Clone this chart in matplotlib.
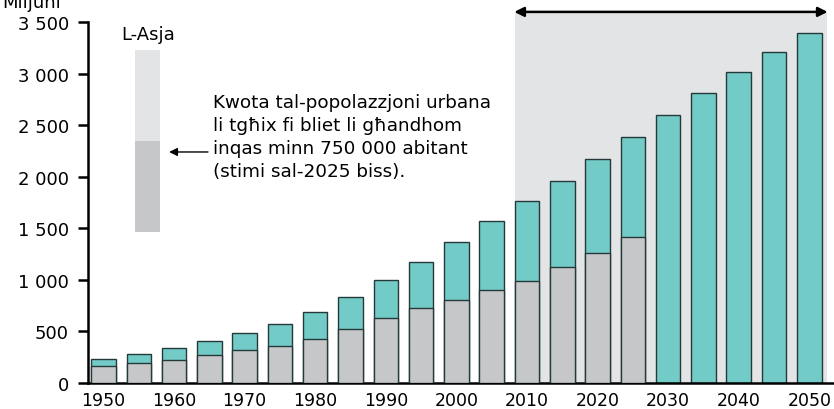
import matplotlib.pyplot as plt
from matplotlib.ticker import FuncFormatter

# dejta (miljuni)
snin = [1950, 1955, 1960, 1965, 1970, 1975, 1980, 1985, 1990, 1995, 2000,
        2005, 2010, 2015, 2020, 2025, 2030, 2035, 2040, 2045, 2050]
total = [227, 276, 334, 408, 480, 567, 683, 832, 1000, 1175, 1363,
         1567, 1761, 1958, 2172, 2382, 2602, 2813, 3019, 3214, 3392]
bliet_zghar = [159, 188, 220, 266, 315, 359, 427, 524, 631, 724, 803,
               897, 984, 1123, 1260, 1412]
xtikketti = list(range(1950, 2051, 10))

TEAL = '#72cbc7'
GRIZ = '#c6c7c9'
SFOND = '#e3e4e6'
XIFER = '#26393a'

plt.rcParams['font.family'] = ['DejaVu Sans']
fig = plt.figure(figsize=(8.34, 4.10), dpi=100)
ax = fig.add_axes([87.5 / 834, 26.3 / 410, 1 - 87.5 / 834, (383.7 - 12.9) / 410])

wisa = 3.47
# sfond ghall-projezzjonijiet
ax.axvspan(2010 - wisa / 2, 2052.5, color=SFOND, zorder=0, lw=0)

ax.bar(snin, total, width=wisa, color=TEAL, edgecolor=XIFER, linewidth=1, zorder=2)
ax.bar(snin[:len(bliet_zghar)], bliet_zghar, width=wisa, color=GRIZ,
       edgecolor=XIFER, linewidth=1, zorder=3)

ax.set_xlim(1947.73, 2053.5)
ax.set_ylim(0, 3600)
ax.set_yticks(range(0, 3501, 500))
ax.yaxis.set_major_formatter(FuncFormatter(lambda v, p: f'{int(v):,}'.replace(',', ' ')))
ax.set_xticks(xtikketti)
ax.tick_params(axis='x', length=0, labelsize=12.5, pad=6)
ax.tick_params(axis='y', length=7.5, width=1.8, labelsize=13, pad=6)
for s in ['top', 'right']:
    ax.spines[s].set_visible(False)
ax.spines['left'].set_linewidth(1.8)
ax.spines['bottom'].set_linewidth(1.8)
ax.spines['left'].set_bounds(0, 3500)

# vleġġa doppja fuq
ax.annotate('', xy=(2052.6, 3600), xytext=(2008.2, 3600),
            arrowprops=dict(arrowstyle='<|-|>', color='black', lw=1.8,
                            mutation_scale=14, shrinkA=0, shrinkB=0),
            annotation_clip=False)

# legenda
ax.bar(1956.25, 3229 - 1466, bottom=1466, width=3.5, color=SFOND, lw=0, zorder=2)
ax.bar(1956.25, 2344 - 1466, bottom=1466, width=3.5, color=GRIZ, lw=0, zorder=3)
ax.text(1956.25, 3385, 'L-Asja', ha='center', va='center', fontsize=13)
ax.annotate('', xy=(1959.3, 2240), xytext=(1964.8, 2240),
            arrowprops=dict(arrowstyle='-|>', color='black', lw=1,
                            mutation_scale=12, shrinkA=0, shrinkB=0))
ax.text(1965.5, 2810,
        'Kwota tal-popolazzjoni urbana\nli tgħix fi bliet li għandhom\n'
        'inqas minn 750 000 abitant\n(stimi sal-2025 biss).',
        ha='left', va='top', fontsize=13.2, linespacing=1.36)

fig.text(2 / 834, (410 - 8) / 410, 'Miljuni', ha='left', va='baseline', fontsize=13)

fig.savefig('out.png', dpi=100)
